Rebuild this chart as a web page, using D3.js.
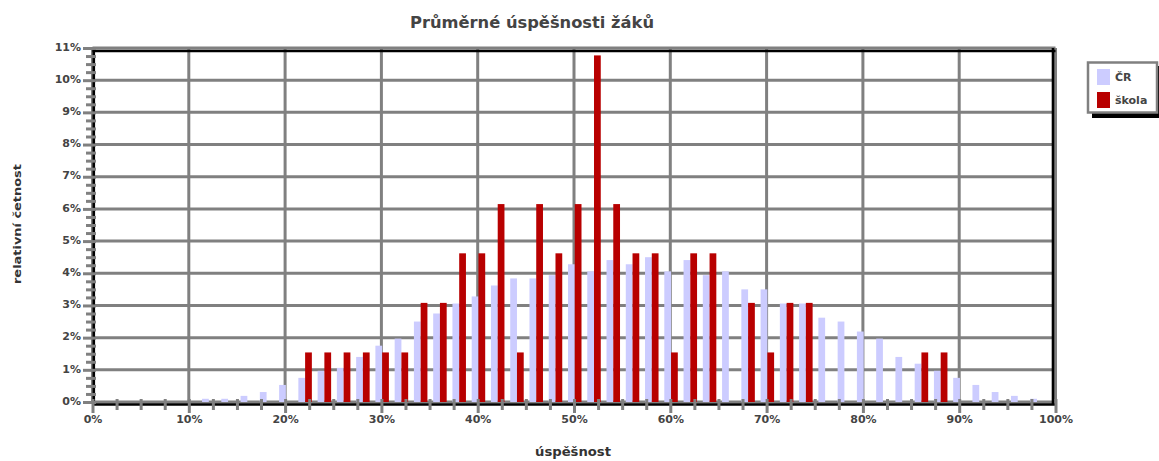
<!DOCTYPE html>
<html><head><meta charset="utf-8">
<script src="https://cdn.jsdelivr.net/npm/d3@7"></script>
<style>body{margin:0;background:#fff}svg{display:block}</style>
</head><body><svg id="c" width="1159" height="461"></svg>
<script>
// ---- data ----
const categories = [0,2,4,6,8,10,12,14,16,18,20,22,24,26,28,30,32,34,36,38,40,42,44,46,48,50,52,54,56,58,60,62,64,66,68,70,72,74,76,78,80,82,84,86,88,90,92,94,96,98,100];
const seriesNames = ["ČR", "škola"];
const crValues = [0,0,0,0,0,0,0.10,0.10,0.19,0.31,0.53,0.75,0.97,1.06,1.40,1.75,1.97,2.50,2.75,3.06,3.28,3.62,3.84,3.84,3.94,4.28,4.06,4.41,4.28,4.50,4.06,4.41,3.94,4.06,3.50,3.50,3.06,3.06,2.62,2.50,2.19,1.97,1.40,1.19,0.97,0.75,0.53,0.31,0.19,0.10,0];
const skolaValues = [0,0,0,0,0,0,0,0,0,0,0,1.54,1.54,1.54,1.54,1.54,1.54,3.08,3.08,4.62,4.62,6.15,1.54,6.15,4.62,6.15,10.77,6.15,4.62,4.62,1.54,4.62,4.62,0,3.08,1.54,3.08,3.08,0,0,0,0,0,1.54,1.54,0,0,0,0,0,0];
const xTickValues = [0,10,20,30,40,50,60,70,80,90,100];
const xMinorTicks = [2.5,5,7.5,12.5,15,17.5,22.5,25,27.5,32.5,35,37.5,42.5,45,47.5,52.5,55,57.5,62.5,65,67.5,72.5,75,77.5,82.5,85,87.5,92.5,95,97.5];
const yTickValues = [0,1,2,3,4,5,6,7,8,9,10,11];
const yMinorTicks = [0.25,0.5,0.75,1.25,1.5,1.75,2.25,2.5,2.75,3.25,3.5,3.75,4.25,4.5,4.75,5.25,5.5,5.75,6.25,6.5,6.75,7.25,7.5,7.75,8.25,8.5,8.75,9.25,9.5,9.75,10.25,10.5,10.75];
const titleText = "Průměrné úspěšnosti žáků";
const xTitle = "úspěšnost";
const yTitle = "relativní četnost";
const colors = ["#CCCCFF", "#B80000"];

// ---- chart ----
const svg = d3.select("#c");
const x = d3.scaleLinear().domain([0,100]).range([92.5,1055.5]);
const y = d3.scaleLinear().domain([0,11]).range([402,48]);
const sub = d3.scaleBand().domain(seriesNames).range([-6, 7.5]);
const color = d3.scaleOrdinal().domain(seriesNames).range(colors);
const GRAY = "#808080";
const font = "'DejaVu Sans', Verdana, sans-serif";

svg.append("rect").attr("width",1159).attr("height",461).attr("fill","#fff");

// gridlines
svg.append("g").selectAll("line").data(yTickValues).join("line")
  .attr("x1", x(0)).attr("x2", x(100))
  .attr("y1", d=>y(d)).attr("y2", d=>y(d))
  .attr("stroke", GRAY).attr("stroke-width", 3);
svg.append("g").selectAll("line").data(xTickValues).join("line")
  .attr("x1", d=>x(d)).attr("x2", d=>x(d))
  .attr("y1", y(11)).attr("y2", y(0))
  .attr("stroke", GRAY).attr("stroke-width", 3);

// bars
const rows = categories.map((c,i)=>({c, vals:[{s:"ČR",v:crValues[i]},{s:"škola",v:skolaValues[i]}]}));
svg.append("g").selectAll("g").data(rows).join("g")
  .attr("transform", d=>`translate(${x(d.c)},0)`)
  .selectAll("rect").data(d=>d.vals.filter(e=>e.v>0)).join("rect")
  .attr("x", d=>sub(d.s)).attr("width", sub.bandwidth())
  .attr("y", d=>y(d.v)).attr("height", d=>y(0)-y(d.v))
  .attr("fill", d=>color(d.s));

// frame
const frame = svg.append("g").attr("stroke","#000").attr("stroke-width",2.6);
frame.append("line").attr("x1",x(0)).attr("x2",x(100)).attr("y1",y(11)+3).attr("y2",y(11)+3);
frame.append("line").attr("x1",x(100)-2.5).attr("x2",x(100)-2.5).attr("y1",y(11)).attr("y2",y(0)+3);
frame.append("line").attr("x1",x(0)+1.3).attr("x2",x(0)+1.3).attr("y1",y(11)).attr("y2",y(0)+3);
frame.append("line").attr("x1",x(0)).attr("x2",x(100)).attr("y1",y(0)+2.5).attr("y2",y(0)+2.5);

// x axis
const xAxisG = svg.append("g").attr("transform", `translate(0,${y(0)-3})`)
  .call(d3.axisBottom(x).tickValues(xTickValues).tickFormat(d=>d+"%").tickSize(14).tickPadding(2));
const xMinorG = svg.append("g").attr("transform", `translate(0,${y(0)-3})`)
  .call(d3.axisBottom(x).tickValues(xMinorTicks).tickFormat("").tickSize(11));
// y axis
const yAxisG = svg.append("g").attr("transform", `translate(${x(0)+3.5},0)`)
  .call(d3.axisLeft(y).tickValues(yTickValues).tickFormat(d=>d+"%").tickSize(13).tickPadding(2));
const yMinorG = svg.append("g").attr("transform", `translate(${x(0)+3.5},0)`)
  .call(d3.axisLeft(y).tickValues(yMinorTicks).tickFormat("").tickSize(10));
[xAxisG,xMinorG,yAxisG,yMinorG].forEach(g=>{
  g.select(".domain").remove();
  g.selectAll(".tick line").attr("stroke",GRAY).attr("stroke-width",3);
  g.selectAll(".tick text").attr("fill","#444").style("font-family",font)
    .style("font-size","11px").style("font-weight","bold");
});
yAxisG.selectAll(".tick text").attr("dy","0.2em");

// titles
svg.append("text").attr("x",532).attr("y",28).attr("text-anchor","middle")
  .attr("textLength",244).attr("lengthAdjust","spacingAndGlyphs")
  .style("font-family",font).style("font-size","15px").style("font-weight","bold").attr("fill","#444")
  .text(titleText);
svg.append("text").attr("x",573).attr("y",456).attr("text-anchor","middle")
  .attr("textLength",76).attr("lengthAdjust","spacingAndGlyphs")
  .style("font-family",font).style("font-size","12px").style("font-weight","bold").attr("fill","#333")
  .text(xTitle);
svg.append("text").attr("transform","translate(21,224) rotate(-90)").attr("text-anchor","middle")
  .attr("textLength",120).attr("lengthAdjust","spacingAndGlyphs")
  .style("font-family",font).style("font-size","11px").style("font-weight","bold").attr("fill","#333")
  .text(yTitle);

// legend
const lg = svg.append("g");
lg.append("rect").attr("x",1092).attr("y",66).attr("width",70).attr("height",52).attr("fill","#000");
lg.append("rect").attr("x",1088).attr("y",62.5).attr("width",69).attr("height",50).attr("fill","#fff")
  .attr("stroke",GRAY).attr("stroke-width",2.5);
const items = lg.selectAll("g.item").data(seriesNames).join("g").attr("class","item")
  .attr("transform",(d,i)=>`translate(1097,${69+i*23})`);
items.append("rect").attr("width",13).attr("height",16).attr("fill",d=>color(d));
items.append("text").attr("x",18).attr("y",12).text(d=>d)
  .style("font-family",font).style("font-size","11px").style("font-weight","bold").attr("fill","#444");
</script></body></html>
